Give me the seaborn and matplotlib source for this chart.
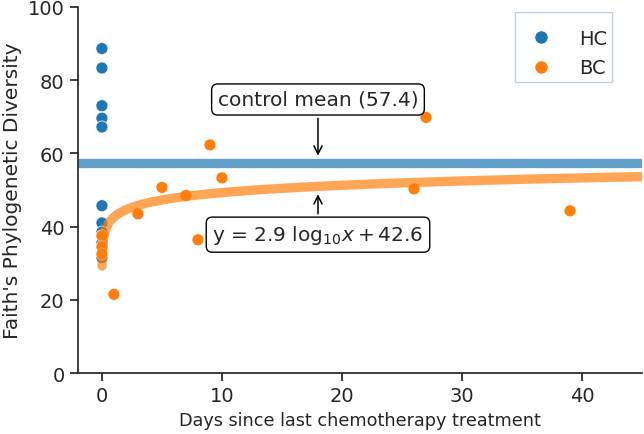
import matplotlib
matplotlib.use("Agg")
import matplotlib.pyplot as plt
import numpy as np
import pandas as pd
import seaborn as sns

# healthy controls, all at day 0
HC_DAYS = [0, 0, 0, 0, 0, 0, 0, 0, 0, 0, 0]
HC_PD = [88.6, 83.3, 73.0, 69.6, 67.2, 45.7, 41.0, 38.5, 35.5, 32.3, 31.5]

# breast cancer patients
BC_DAYS = [0, 0, 0, 1, 3, 5, 7, 8, 9, 10, 26, 27, 39]
BC_PD = [37.5, 34.5, 32.5, 21.5, 43.5, 50.7, 48.5, 36.4, 62.3, 53.3, 50.3, 69.8, 44.3]

CONTROL_MEAN = 57.4
FIT_SLOPE = 2.9
FIT_INTERCEPT = 42.6
FIT_X_MIN = 0.01
FIT_X_MAX = 45

X_LABEL = "Days since last chemotherapy treatment"
Y_LABEL = "Faith's Phylogenetic Diversity"


def build_frame() -> pd.DataFrame:
    hc = pd.DataFrame({"days": HC_DAYS, "pd": HC_PD, "group": "HC"})
    bc = pd.DataFrame({"days": BC_DAYS, "pd": BC_PD, "group": "BC"})
    return pd.concat([hc, bc], ignore_index=True)


def main() -> None:
    sns.set_theme(style="ticks")
    plt.rcParams["font.family"] = ["DejaVu Sans"]

    df = build_frame()
    palette = {"HC": "#1f77b4", "BC": "#ff7f0e"}

    fig, ax = plt.subplots(figsize=(6.44, 4.35), dpi=100)
    fig.subplots_adjust(left=0.121, right=0.997, bottom=0.14, top=0.982)

    sns.scatterplot(data=df, x="days", y="pd", hue="group", palette=palette,
                    s=75, edgecolor="white", linewidth=0.5, ax=ax, zorder=3)

    ax.axhline(CONTROL_MEAN, color="#1f77b4", alpha=0.7, linewidth=6.7, zorder=2)

    fit_x = np.linspace(FIT_X_MIN, FIT_X_MAX, 2000)
    fit_y = FIT_SLOPE * np.log(fit_x) + FIT_INTERCEPT
    sns.lineplot(x=fit_x, y=fit_y, color="#ff7f0e", alpha=0.7, linewidth=6.7,
                 ax=ax, zorder=4, legend=False)

    box = dict(boxstyle="round,pad=0.3", fc="white", ec="black", lw=1)
    arrow = dict(arrowstyle="->", color="black", lw=1.1)
    ax.annotate(f"control mean ({CONTROL_MEAN})", xy=(18, 58.6), xytext=(18, 74.7),
                ha="center", va="center", fontsize=14.5, bbox=box, arrowprops=arrow)
    ax.annotate(f"y = {FIT_SLOPE} log$_{{10}}x + {FIT_INTERCEPT}$", xy=(18, 49.6),
                xytext=(18, 37.8), ha="center", va="center", fontsize=14.5,
                bbox=box, arrowprops=arrow)

    ax.set_xlim(-2, 45)
    ax.set_ylim(0, 100)
    ax.set_yticks([0, 20, 40, 60, 80, 100])
    ax.set_xticks([0, 10, 20, 30, 40])
    ax.set_xlabel(X_LABEL, fontsize=12.7)
    ax.set_ylabel(Y_LABEL, fontsize=14.5)
    ax.tick_params(labelsize=14)

    # blank title line gives the extra room above the entries
    leg = ax.legend(loc="upper right", fontsize=14, frameon=True, fancybox=False,
                    title=" ", title_fontsize=1,
                    handlelength=2.17, handletextpad=0.87, borderpad=0.25,
                    labelspacing=0.556, markerscale=1.1, borderaxespad=0,
                    bbox_to_anchor=(0.947, 0.986))
    leg.get_frame().set_edgecolor("#b0c4de")
    leg.get_frame().set_linewidth(1)

    sns.despine(ax=ax)
    fig.savefig("out.png", dpi=100)


if __name__ == "__main__":
    main()
